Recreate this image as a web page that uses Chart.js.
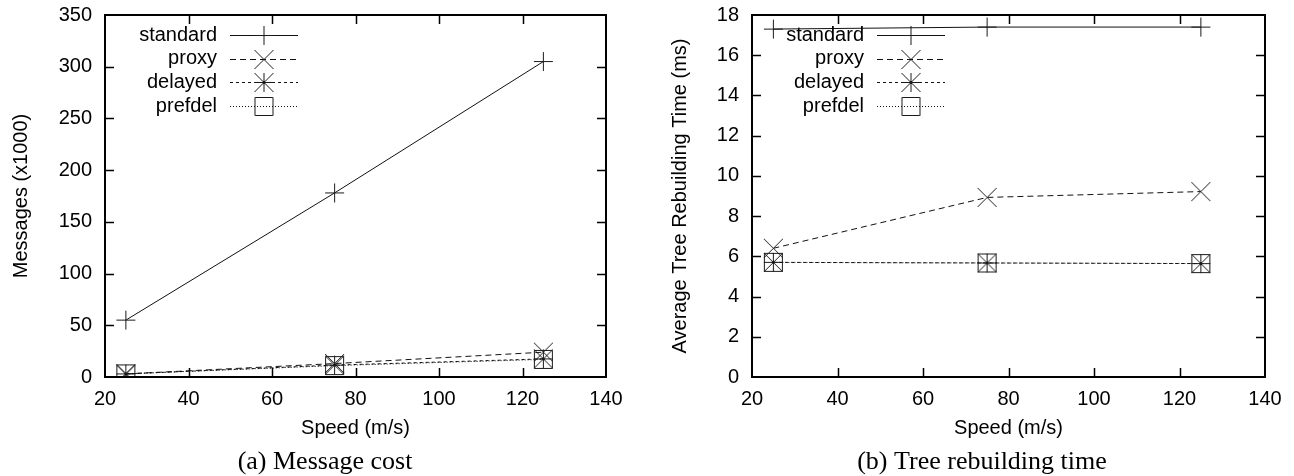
<!DOCTYPE html>
<html lang="en">
<head>
  <meta charset="UTF-8" />
  <title>Message cost and tree rebuilding time vs speed</title>
  <script src="https://cdn.jsdelivr.net/npm/chart.js"></script>
  <style>
    body { margin: 0; background: #fff; }
    .wrap { position: relative; width: 1294px; height: 476px; }
    .panel { position: absolute; top: 0; width: 647px; height: 476px; }
    #left { left: 0; }
    #right { left: 647px; }
  </style>
</head>
<body>
  <div class="wrap">
    <div class="panel" id="left"><canvas id="costChart" width="647" height="476"></canvas></div>
    <div class="panel" id="right"><canvas id="timeChart" width="647" height="476"></canvas></div>
  </div>

  <script>
    // data
    const speeds = [25, 75, 125];
    const seriesNames = ['standard', 'proxy', 'delayed', 'prefdel'];

    const msgStandard = [55, 178, 305];
    const msgProxy    = [3, 13, 24];
    const msgDelayed  = [3, 11.5, 17.5];
    const msgPrefdel  = [3, 11, 17];

    const timeStandard = [17.3, 17.4, 17.4];
    const timeProxy    = [6.4, 8.93, 9.22];
    const timeDelayed  = [5.7, 5.67, 5.64];
    const timePrefdel  = [5.7, 5.67, 5.64];

    const speedTicks = [20, 40, 60, 80, 100, 120, 140];
    const msgTicks = [0, 50, 100, 150, 200, 250, 300, 350];
    const timeTicks = [0, 2, 4, 6, 8, 10, 12, 14, 16, 18];

    const SANS = '"Liberation Sans", Arial, sans-serif';
    const FS = 20;
    Chart.defaults.font.family = SANS;
    Chart.defaults.font.size = FS;
    Chart.defaults.color = '#000';

    // gnuplot-like point markers
    function makeMarker(kind) {
      const c = document.createElement('canvas');
      c.width = 21; c.height = 21;
      const g = c.getContext('2d');
      g.strokeStyle = '#1a1a1a';
      g.lineWidth = 1;
      const m = 10.5, h = 9.5;
      g.beginPath();
      if (kind === 'plus' || kind === 'star') {
        g.moveTo(m - h, m); g.lineTo(m + h, m);
        g.moveTo(m, m - h); g.lineTo(m, m + h);
      }
      if (kind === 'cross' || kind === 'star') {
        g.moveTo(m - h, m - h); g.lineTo(m + h, m + h);
        g.moveTo(m + h, m - h); g.lineTo(m - h, m + h);
      }
      if (kind === 'box') g.rect(1.5, 1.5, 18, 18);
      g.stroke();
      return c;
    }

    const markers = [makeMarker('plus'), makeMarker('cross'), makeMarker('star'), makeMarker('box')];
    const dashes = [[], [6, 4], [3, 3], [1, 2]];

    function pts(ys) {
      return speeds.map((s, i) => ({ x: s, y: ys[i] }));
    }

    function makeDatasets(series) {
      return series.map((ys, i) => ({
        label: seriesNames[i],
        data: pts(ys),
        borderColor: '#111',
        borderWidth: 1,
        borderDash: dashes[i],
        pointStyle: markers[i],
        pointRadius: 10,
        fill: false,
        tension: 0
      }));
    }

    // frame, inner ticks, legend and caption
    const gnuplotFrame = {
      id: 'gnuplotFrame',
      afterDraw(chart, args, opts) {
        const ctx = chart.ctx;
        const a = chart.chartArea;
        const xs = chart.scales.x, ys = chart.scales.y;
        ctx.save();

        ctx.strokeStyle = '#000';
        ctx.lineWidth = 1.5;
        ctx.beginPath();
        opts.xTicks.slice(1, -1).forEach(v => {
          const px = Math.round(xs.getPixelForValue(v)) + 0.5;
          ctx.moveTo(px, a.bottom); ctx.lineTo(px, a.bottom - 9);
          ctx.moveTo(px, a.top); ctx.lineTo(px, a.top + 9);
        });
        opts.yTicks.slice(1, -1).forEach(v => {
          const py = Math.round(ys.getPixelForValue(v)) + 0.5;
          ctx.moveTo(a.left, py); ctx.lineTo(a.left + 9, py);
          ctx.moveTo(a.right, py); ctx.lineTo(a.right - 9, py);
        });
        ctx.stroke();

        ctx.lineWidth = 2;
        ctx.strokeRect(a.left, a.top, a.right - a.left, a.bottom - a.top);

        // legend
        ctx.font = FS + 'px ' + SANS;
        ctx.fillStyle = '#000';
        ctx.textAlign = 'right';
        ctx.textBaseline = 'middle';
        chart.data.datasets.forEach((ds, i) => {
          const y = a.top + 20 + i * 23.7;
          ctx.fillText(ds.label, a.left + 112, y);
          ctx.strokeStyle = '#111';
          ctx.lineWidth = 1;
          ctx.setLineDash(ds.borderDash);
          ctx.beginPath();
          ctx.moveTo(a.left + 125, Math.round(y) + 0.5);
          ctx.lineTo(a.left + 193, Math.round(y) + 0.5);
          ctx.stroke();
          ctx.setLineDash([]);
          ctx.drawImage(ds.pointStyle, a.left + 159 - 10.5, Math.round(y) - 10);
        });

        // caption
        ctx.font = '26px "Liberation Serif", "Times New Roman", serif';
        ctx.textAlign = 'center';
        ctx.fillText(opts.caption, opts.captionX, 462);
        ctx.restore();
      }
    };

    function makeChart(id, series, yTicks, yTitle, yTitlePad, rightPad, caption, captionX) {
      return new Chart(document.getElementById(id), {
        type: 'line',
        data: { datasets: makeDatasets(series) },
        plugins: [gnuplotFrame],
        options: {
          responsive: false,
          animation: false,
          layout: { padding: { left: 0, top: 15, right: rightPad, bottom: 35 } },
          plugins: {
            legend: { display: false },
            tooltip: { enabled: false },
            gnuplotFrame: { caption: caption, captionX: captionX, xTicks: speedTicks, yTicks: yTicks }
          },
          scales: {
            x: {
              type: 'linear',
              min: speedTicks[0],
              max: speedTicks[speedTicks.length - 1],
              grid: { display: false, drawTicks: false },
              border: { display: false },
              ticks: { stepSize: 20, padding: 10, maxRotation: 0, autoSkip: false },
              title: { display: true, text: 'Speed (m/s)', padding: { top: 0, bottom: 1 } },
              afterFit(scale) {
                scale.height = 64;
                scale.paddingLeft = 0;
                scale.paddingRight = 0;
              }
            },
            y: {
              min: yTicks[0],
              max: yTicks[yTicks.length - 1],
              grid: { display: false, drawTicks: false },
              border: { display: false },
              ticks: { stepSize: yTicks[1] - yTicks[0], padding: 13, autoSkip: false },
              title: { display: true, text: yTitle, padding: { top: yTitlePad, bottom: 0 } },
              afterFit(scale) {
                scale.width = 105;
                scale.paddingTop = 0;
                scale.paddingBottom = 0;
              }
            }
          }
        }
      });
    }

    makeChart('costChart', [msgStandard, msgProxy, msgDelayed, msgPrefdel], msgTicks,
      'Messages (x1000)', 9, 41, '(a) Message cost', 325);
    makeChart('timeChart', [timeStandard, timeProxy, timeDelayed, timePrefdel], timeTicks,
      'Average Tree Rebuilding Time (ms)', 21, 29, '(b) Tree rebuilding time', 335);
  </script>
</body>
</html>
